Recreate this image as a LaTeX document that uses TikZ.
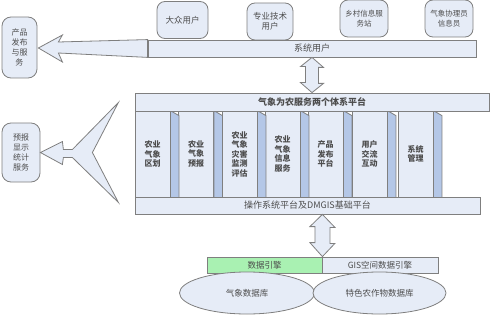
\documentclass[tikz,border=0pt]{standalone}
\usepackage{fontspec}
\setmainfont{Noto Sans CJK SC}
\usetikzlibrary{positioning,calc,shapes.geometric}
\definecolor{cFill}{HTML}{E6ECF7}
\definecolor{cSide}{HTML}{B4C7E7}
\definecolor{cEdge}{HTML}{7F7F7F}
\definecolor{cEngine}{HTML}{A9F1B2}
\definecolor{cText}{HTML}{4D4D4D}

\begin{document}
\begin{tikzpicture}[
    x=1pt, y=-1pt,
    font=\fontsize{8.5}{10}\selectfont, text=cText,
    user/.style={draw=cEdge, fill=cFill, line width=0.8pt, rounded corners=8pt, align=center, minimum height=37pt, inner sep=1pt},
    bar/.style={draw=cEdge, fill=cFill, line width=0.8pt, align=center, inner sep=0pt, font=\fontsize{9}{10}\selectfont},
    sidebox/.style={draw=cEdge, fill=cFill, line width=0.8pt, rounded corners=9pt, align=center, inner sep=1pt, font=\fontsize{8}{10}\selectfont},
    col/.style={draw=cEdge, fill=cFill, line width=0.8pt, minimum width=35pt, minimum height=86pt, align=center, inner sep=1pt, font=\fontsize{8}{9.5}\selectfont\bfseries},
    face/.style={draw=cEdge, fill=cSide, line width=0.8pt},
    fat/.style={draw=cEdge, fill=cFill, line width=0.8pt, line join=miter},
    eng/.style={draw=cEdge, fill=cFill, line width=0.8pt, minimum height=16pt, inner sep=0pt},
    db/.style={ellipse, draw=cEdge, fill=cFill, line width=0.8pt, minimum height=42pt, inner sep=0pt}
]
\useasboundingbox (0,0) rectangle (492,315);

% users
\node[user, minimum width=51pt] (mass) at (182.5,20) {大众用户};
\node[user, minimum width=46pt] (expert) at (270,21.5) {专业技术\\用户};
\node[user, minimum width=48pt, font=\fontsize{7.5}{10}\selectfont] (station) at (364,18.5) {乡村信息服\\务站};
\node[user, minimum width=48pt, font=\fontsize{7.5}{10}\selectfont] (liaison) at (449,18.5) {气象协理员\\信息员};
\node[bar, minimum width=328pt, minimum height=17pt] (users) at (312,48.5) {系统用户};

% services on the left
\node[sidebox, minimum width=35pt, minimum height=61pt] (publish) at (19.5,47.5) {产品\\发布\\与服\\务};
\node[sidebox, minimum width=38pt, minimum height=59pt] (stats) at (21,152.5) {预报\\显示\\统计\\服务};

% columns of the platform
\node[col] (c1) at (152.5,154) {农业\\气象\\区划};
\node[col] (c2) at (196,154) {农业\\气象\\预报};
\node[col] (c3) at (239.5,154) {农业\\气象\\灾害\\监测\\评估};
\node[col] (c4) at (282.5,154) {农业\\气象\\信息\\服务};
\node[col] (c5) at (325.5,154) {产品\\发布\\平台};
\node[col] (c6) at (369.5,154) {用户\\交流\\互动};
\node[col] (c7) at (415.5,154) {系统\\管理};
\foreach \c in {c1,c2,c3,c4,c5,c6,c7}
  \draw[face] (\c.north east) -- ++(8.5,5) |- (\c.south east) -- cycle;

\node[bar, minimum width=354pt, minimum height=18pt, font=\fontsize{9}{10}\selectfont\bfseries] (platform) at (312,102) {气象为农服务两个体系平台};
\node[bar, minimum width=345pt, minimum height=17pt] (base) at (307.5,205.5) {操作系统平台及DMGIS基础平台};

% data layer
\node[eng, fill=cEngine, minimum width=115pt] (dbeng) at (264.5,265) {数据引擎};
\node[eng, minimum width=116pt] (giseng) at (380,265) {GIS空间数据引擎};
\node[db, minimum width=135pt] (metdb) at (247,293) {气象数据库};
\node[db, minimum width=133pt] (cropdb) at (379.5,293) {特色农作物数据库};

% fat arrows
\draw[fat] (users.north west) -- ($(publish.east)+(21,-5.5)$) -- ($(publish.east)+(25,-12.5)$) -- ($(publish.east)+(1,0.5)$)
  -- ($(publish.east)+(25,14.5)$) -- ($(publish.east)+(21,5.5)$) -- (users.south west) -- cycle;
\draw[fat] (stats.east) -- ++(22,-11) -- ++(1,8) -- ++(9,0) -- ++(46,-47) -- ++(-26,50) -- ++(26,50)
  -- ++(-46,-45) -- ++(-9,0) -- ++(-1,7) -- cycle;
\draw[fat] (users.south) -- ++(11.5,10) -- ++(-5,0) -- ++(0,16) -- ++(5,0) -- (platform.north)
  -- ++(-11.5,-10) -- ++(5,0) -- ++(0,-16) -- ++(-5,0) -- cycle;
\coordinate (gistop) at (base.south -| dbeng.north east);
\draw[fat] (gistop) -- ++(12.5,13) -- ++(-5,0) -- ++(0,16) -- ++(5,0) -- (dbeng.north east)
  -- ++(-12.5,-14) -- ++(5,0) -- ++(0,-16) -- ++(-5,0) -- cycle;

\end{tikzpicture}
\end{document}
